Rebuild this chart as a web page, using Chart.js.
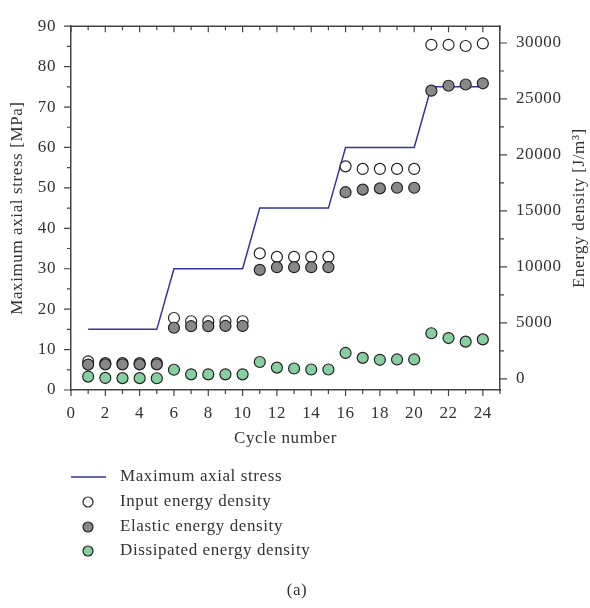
<!DOCTYPE html>
<html>
<head>
<meta charset="utf-8">
<script src="https://cdn.jsdelivr.net/npm/chart.js@4"></script>
<style>
  body { margin: 0; background: #fff; }
  #wrap { width: 590px; height: 608px; position: relative; }
</style>
</head>
<body>
<div id="wrap"><canvas id="energyChart"></canvas></div>
<script>
const cycles = [1, 2, 3, 4, 5, 6, 7, 8, 9, 10, 11, 12, 13, 14, 15, 16, 17, 18, 19, 20, 21, 22, 23, 24];
const maxStress = [15, 15, 15, 15, 15, 30, 30, 30, 30, 30, 45, 45, 45, 45, 45, 60, 60, 60, 60, 60, 75, 75, 75, 75];
const inputEnergy = [1550, 1400, 1400, 1400, 1400, 5430, 5140, 5140, 5140, 5140, 11200, 10890, 10890, 10890, 10890,
    18980, 18750, 18750, 18750, 18750, 29840, 29840, 29730, 29960];
const elasticEnergy = [1270, 1290, 1290, 1290, 1290, 4560, 4700, 4700, 4720, 4720, 9730, 9970, 9970, 9970, 9970,
    16670, 16900, 17010, 17070, 17070, 25740, 26180, 26290, 26400];
const dissipatedEnergy = [200, 80, 60, 60, 50, 810, 400, 400, 400, 400, 1500, 1000, 920, 830, 830,
    2310, 1870, 1700, 1730, 1730, 4070, 3640, 3320, 3520];

const xTicks = [0, 2, 4, 6, 8, 10, 12, 14, 16, 18, 20, 22, 24];
const stressTicks = [0, 10, 20, 30, 40, 50, 60, 70, 80, 90];
const energyTicks = [0, 5000, 10000, 15000, 20000, 25000, 30000];

const legendLabels = ['Maximum axial stress', 'Input energy density', 'Elastic energy density', 'Dissipated energy density'];

const serif = "'Liberation Serif', 'DejaVu Serif', serif";
const textColor = '#333';
const axisColor = '#444';
const lineColor = '#35359e';

const toPoints = (ys) => cycles.map((c, i) => ({ x: c, y: ys[i] }));
const fixTicks = (values) => (scale) => { scale.ticks = values.map(v => ({ value: v })); };
const plainLabel = (v) => String(v);

// wider spacing, closer to the original serif face
const spacing = {
    id: 'spacing',
    beforeDraw(chart) { chart.ctx.letterSpacing = '0.6px'; }
};

// axis ticks (major + minor), top frame, titles and legend
const decorations = {
    id: 'decorations',
    afterDraw(chart) {
        const { ctx, chartArea: a, scales } = chart;
        ctx.save();
        ctx.letterSpacing = '0.6px';
        ctx.strokeStyle = axisColor;
        ctx.lineWidth = 1.5;
        ctx.beginPath();
        ctx.moveTo(a.left, a.top);
        ctx.lineTo(a.right, a.top);
        ctx.stroke();

        ctx.lineWidth = 1.2;
        ctx.beginPath();
        for (let v = 0; v <= 25; v++) {
            const px = scales.x.getPixelForValue(v);
            const len = v % 2 === 0 ? 6 : 4;
            ctx.moveTo(px, a.bottom); ctx.lineTo(px, a.bottom + len);
            ctx.moveTo(px, a.top); ctx.lineTo(px, a.top + len);
        }
        for (let v = 0; v <= 90; v += 5) {
            const py = scales.y.getPixelForValue(v);
            const len = v % 10 === 0 ? 7 : 4;
            ctx.moveTo(a.left, py); ctx.lineTo(a.left - len, py);
        }
        for (let v = 0; v <= 30000; v += 2500) {
            const py = scales.y2.getPixelForValue(v);
            const len = v % 5000 === 0 ? 7 : 4;
            ctx.moveTo(a.right, py); ctx.lineTo(a.right + len, py);
        }
        ctx.stroke();

        ctx.fillStyle = textColor;
        ctx.font = '17px ' + serif;
        ctx.textAlign = 'center';
        ctx.textBaseline = 'middle';
        ctx.fillText('Cycle number', (a.left + a.right) / 2, 439);

        ctx.save();
        ctx.translate(18, (a.top + a.bottom) / 2);
        ctx.rotate(-Math.PI / 2);
        ctx.fillText('Maximum axial stress [MPa]', 0, 0);
        ctx.restore();

        ctx.save();
        ctx.translate(580, (a.top + a.bottom) / 2);
        ctx.rotate(-Math.PI / 2);
        ctx.fillText('Energy density [J/m\u00B3]', 0, 0);
        ctx.restore();

        // legend
        const rows = [477, 502, 527, 551];
        ctx.textAlign = 'left';
        chart.data.datasets.forEach((ds, i) => {
            const y = rows[i];
            if (ds.showLine) {
                ctx.strokeStyle = ds.borderColor;
                ctx.lineWidth = 1.5;
                ctx.beginPath();
                ctx.moveTo(71, y); ctx.lineTo(106, y);
                ctx.stroke();
            } else {
                ctx.fillStyle = ds.backgroundColor;
                ctx.strokeStyle = ds.borderColor;
                ctx.lineWidth = ds.borderWidth;
                ctx.beginPath();
                ctx.arc(88, y, 5, 0, Math.PI * 2);
                ctx.fill();
                ctx.stroke();
            }
            ctx.fillStyle = textColor;
            ctx.fillText(legendLabels[i], 120, y);
        });

        ctx.textAlign = 'center';
        ctx.fillText('(a)', 297, 591);
        ctx.restore();
    }
};

const markerStyle = (fill) => ({
    type: 'scatter',
    yAxisID: 'y2',
    backgroundColor: fill,
    borderColor: '#222',
    borderWidth: 1.2,
    pointRadius: 5.5,
    pointHoverRadius: 5.5
});

new Chart(document.getElementById('energyChart'), {
    type: 'scatter',
    data: {
        datasets: [
            {
                label: legendLabels[0],
                data: toPoints(maxStress),
                yAxisID: 'y',
                showLine: true,
                borderColor: lineColor,
                borderWidth: 1.5,
                pointRadius: 0,
                order: 4
            },
            { label: legendLabels[1], data: toPoints(inputEnergy), ...markerStyle('#ffffff'), order: 3 },
            { label: legendLabels[2], data: toPoints(elasticEnergy), ...markerStyle('#888888'), order: 2 },
            { label: legendLabels[3], data: toPoints(dissipatedEnergy), ...markerStyle('#88cf9f'), order: 1 }
        ]
    },
    options: {
        responsive: true,
        maintainAspectRatio: false,
        animation: false,
        layout: { padding: { top: 15, left: 0, right: 0, bottom: 0 } },
        plugins: {
            legend: { display: false },
            tooltip: { enabled: false }
        },
        scales: {
            x: {
                type: 'linear',
                min: 0,
                max: 25,
                afterBuildTicks: fixTicks(xTicks),
                afterFit: (s) => { s.height = 218; },
                grid: { display: false, drawTicks: false },
                border: { display: true, color: axisColor, width: 1.5 },
                ticks: { padding: 13, color: textColor, font: { family: serif, size: 17 }, callback: plainLabel }
            },
            y: {
                position: 'left',
                min: 0,
                max: 90,
                afterBuildTicks: fixTicks(stressTicks),
                afterFit: (s) => { s.width = 71; },
                grid: { display: false, drawTicks: false },
                border: { display: true, color: axisColor, width: 1.5 },
                ticks: { padding: 15, color: textColor, font: { family: serif, size: 17 }, callback: plainLabel }
            },
            y2: {
                position: 'right',
                min: -1000,
                max: 31500,
                afterBuildTicks: fixTicks(energyTicks),
                afterFit: (s) => { s.width = 90; },
                grid: { display: false, drawTicks: false },
                border: { display: true, color: axisColor, width: 1.5 },
                ticks: { padding: 16, color: textColor, font: { family: serif, size: 17 }, callback: plainLabel }
            }
        }
    },
    plugins: [spacing, decorations]
});
</script>
</body>
</html>
